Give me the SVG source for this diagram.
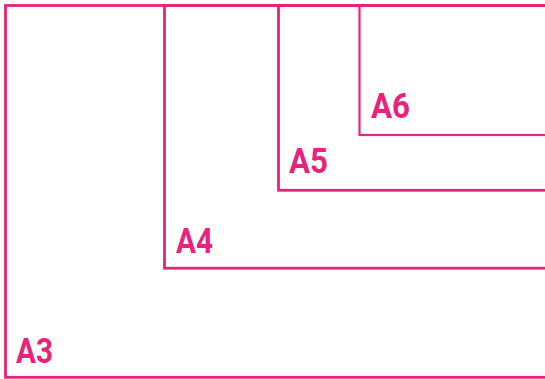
<svg xmlns="http://www.w3.org/2000/svg" width="545" height="379" viewBox="0 0 545 379">
<style>
.frame{fill:none;stroke:#e8237b;stroke-width:2.8}
.lbl{font-family:Roboto,"Liberation Sans",sans-serif;font-weight:bold;font-size:35px;fill:#e8237b}
</style>
<rect width="545" height="379" fill="#ffffff"/>
<g id="A3">
<rect class="frame" x="5.5" y="5.5" width="600" height="371.8"/>
<text class="lbl" x="16" y="363" textLength="37" lengthAdjust="spacingAndGlyphs">A3</text>
</g>
<g id="A4">
<rect class="frame" x="164.5" y="5.5" width="500" height="262.7"/>
<text class="lbl" x="176" y="253" textLength="37" lengthAdjust="spacingAndGlyphs">A4</text>
</g>
<g id="A5">
<rect class="frame" x="278.5" y="5.5" width="400" height="184.8"/>
<text class="lbl" x="289" y="173" textLength="39" lengthAdjust="spacingAndGlyphs">A5</text>
</g>
<g id="A6">
<rect class="frame" x="359.5" y="5.5" width="300" height="129.5" style="stroke-width:2.2"/>
<text class="lbl" x="371" y="118" textLength="39" lengthAdjust="spacingAndGlyphs">A6</text>
</g>
</svg>
